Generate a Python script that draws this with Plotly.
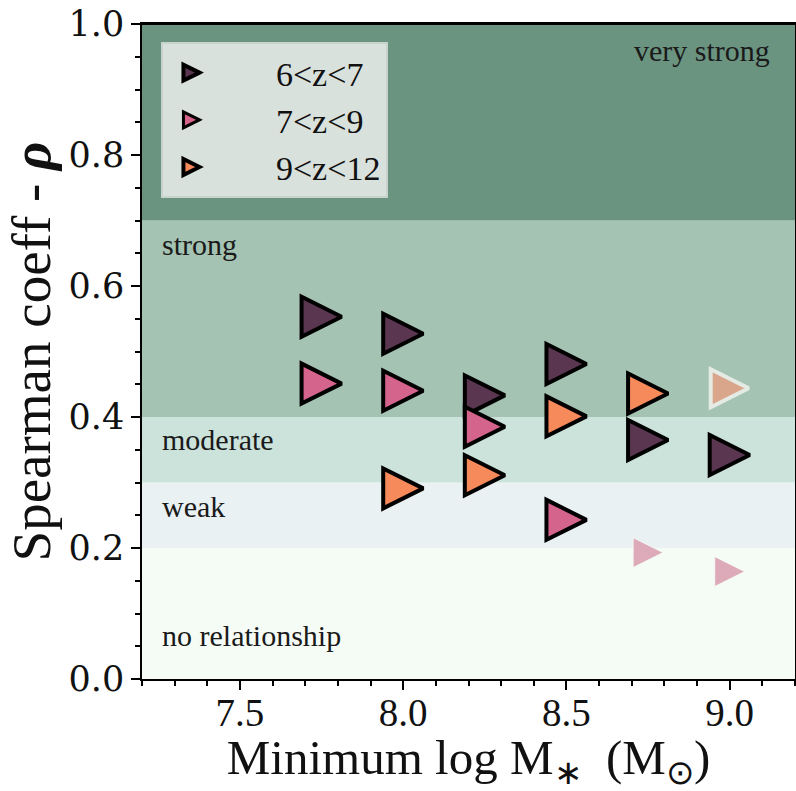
import plotly.graph_objects as go

# ---------------- data ----------------
series_names = ["6<z<7", "7<z<9", "9<z<12"]
series_colors = ["#5a3650", "#d4648c", "#f68a5b"]
faded_colors = ["#9a8a95", "#dcaab9", "#daa68b"]
faded_edges = ["#e6ece7", "#f6f8f5", "#e4ebe4"]

x_6_7 = [7.75, 8.0, 8.25, 8.5, 8.75, 9.0]
rho_6_7 = [0.553, 0.527, 0.433, 0.481, 0.365, 0.342]
sig_6_7 = [True, True, True, True, True, True]

x_7_9 = [7.75, 8.0, 8.25, 8.5, 8.75, 9.0]
rho_7_9 = [0.451, 0.440, 0.385, 0.243, 0.193, 0.164]
sig_7_9 = [True, True, True, True, False, False]

x_9_12 = [8.0, 8.25, 8.5, 8.75, 9.0]
rho_9_12 = [0.291, 0.311, 0.401, 0.436, 0.444]
sig_9_12 = [True, True, True, True, False]

band_edges = [0.0, 0.2, 0.3, 0.4, 0.7, 1.0]
band_colors = ["#f5fcf5", "#e9f1f2", "#cce3dc", "#a4c3b2", "#6b9480"]
band_labels = ["no relationship", "weak", "moderate", "strong", "very strong"]
band_label_x = [7.256, 7.256, 7.256, 7.256, 9.13]
band_label_y = [0.067, 0.263, 0.365, 0.663, 0.960]
band_label_anchor = ["left", "left", "left", "left", "right"]

x_ticks = [7.5, 8.0, 8.5, 9.0]
y_ticks = [0.0, 0.2, 0.4, 0.6, 0.8, 1.0]

# ---------------- figure ----------------
fig = go.Figure()

for lo, hi, col in zip(band_edges[:-1], band_edges[1:], band_colors):
    fig.add_shape(type="rect", xref="x domain", x0=0, x1=1, yref="y", y0=lo, y1=hi,
                  fillcolor=col, line=dict(width=0), layer="below")

# top frame line of the axes box (paper-referenced so it is not clipped)
fig.add_shape(type="line", xref="paper", x0=0, x1=1, yref="paper", y0=1, y1=1,
              line=dict(color="black", width=2), layer="above")

MS = 40
all_series = [(x_6_7, rho_6_7, sig_6_7), (x_7_9, rho_7_9, sig_7_9), (x_9_12, rho_9_12, sig_9_12)]
for i, (xs, ys, sig) in enumerate(all_series):
    sizes, cols, lcols, lws = [], [], [], []
    for s in sig:
        if s:
            sizes.append(MS); cols.append(series_colors[i]); lcols.append("black"); lws.append(4)
        else:
            if i == 1:
                sizes.append(30); lws.append(1)
            else:
                sizes.append(MS - 2); lws.append(4)
            cols.append(faded_colors[i]); lcols.append(faded_edges[i])
    fig.add_trace(go.Scatter(
        x=xs, y=ys, mode="markers", name=series_names[i],
        marker=dict(symbol="arrow-down", angle=-90, standoff=[sz / 2 for sz in sizes],
                    size=sizes, color=cols, opacity=1,
                    line=dict(color=lcols, width=lws)),
    ))

for txt, lx, ly, anc in zip(band_labels, band_label_x, band_label_y, band_label_anchor):
    fig.add_annotation(x=lx, y=ly, xref="x", yref="y", text=txt, showarrow=False,
                       xanchor=anc, yanchor="middle",
                       font=dict(family="Liberation Serif", size=30, color="#1a1a1a"))

fig.update_layout(
    width=796, height=791,
    margin=dict(l=142, r=1, t=24, b=112, autoexpand=False),
    paper_bgcolor="white", plot_bgcolor="white",
    showlegend=True,
    legend=dict(x=0.029, y=0.9725, xanchor="left", yanchor="top",
                bgcolor="rgba(222,228,225,0.96)", bordercolor="#c9d3cd", borderwidth=2,
                font=dict(family="Liberation Serif", size=34, color="#111"),
                itemwidth=103, tracegroupgap=0),
)

fig.update_xaxes(
    range=[7.2, 9.2], tickvals=x_ticks, tickformat=".1f",
    ticks="outside", ticklen=9, tickwidth=2, tickcolor="black",
    showline=True, linecolor="black", linewidth=1.5, mirror=True,
    showgrid=False, zeroline=False, ticklabelstandoff=-11, ticklabeloverflow="allow",
    tickfont=dict(family="Liberation Serif", size=39, color="#111"),
    minor=dict(dtick=0.1, tick0=7.5, ticks="outside", ticklen=5, tickwidth=2,
               tickcolor="black", showgrid=False),
    title=dict(text="Minimum log M<sub>∗</sub>\u00a0 (M<sub>⊙</sub>)",
               font=dict(family="Liberation Serif", size=49, color="#111"), standoff=24),
)
fig.update_yaxes(
    range=[0, 1], tickvals=y_ticks, tickformat=".1f",
    ticks="outside", ticklen=9, tickwidth=2, tickcolor="black",
    showline=True, linecolor="black", linewidth=1.5, mirror=True,
    showgrid=False, zeroline=False, ticklabeloverflow="allow",
    tickfont=dict(family="DejaVu Serif", size=35, color="#111"),
    minor=dict(dtick=0.05, tick0=0, ticks="outside", ticklen=5, tickwidth=2,
               tickcolor="black", showgrid=False),
    title=dict(text="Spearman coeff - <b><i>ρ</i></b>",
               font=dict(family="Liberation Serif", size=55, color="#111"), standoff=0),
)

# remove the browser's default 8px page margin so the 796x791 figure fills the window
fig.write_html("out.html", config={"displayModeBar": False},
               post_script="document.body.style.margin='0px';")
